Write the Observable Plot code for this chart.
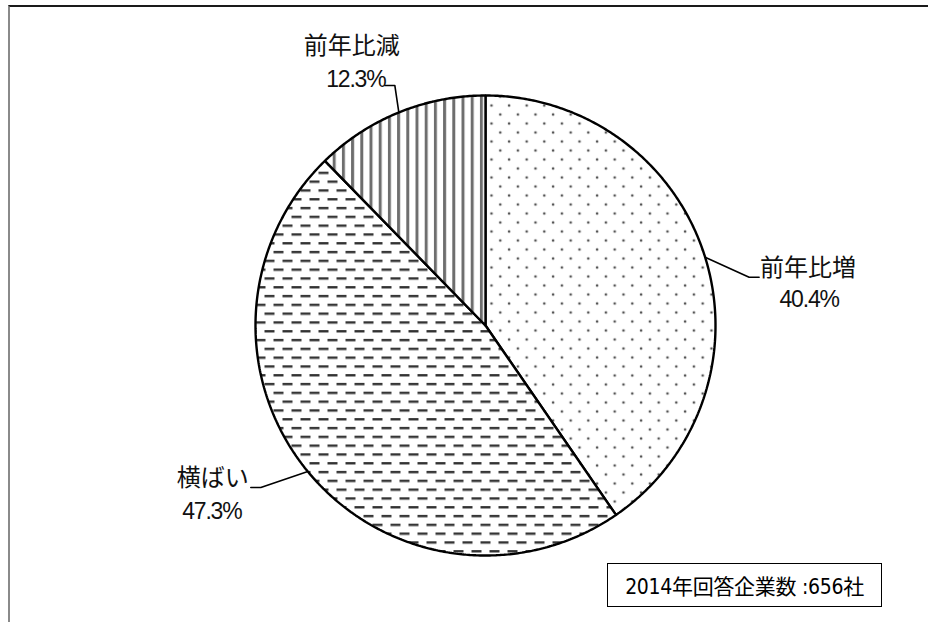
<!DOCTYPE html>
<html><head><meta charset="utf-8">
<script src="https://cdn.jsdelivr.net/npm/d3@7"></script>
<script src="https://cdn.jsdelivr.net/npm/@observablehq/plot@0.6"></script>
<style>
body{margin:0;background:#fff;}
#wrap{position:relative;width:928px;height:622px;overflow:hidden;background:#fff;}
#frame{position:absolute;left:8px;top:5px;width:940px;height:640px;border-top:2px solid #1a1a1a;border-left:2px solid #8a8a8a;}
#chart{position:absolute;left:0;top:0;}
#note{position:absolute;left:607px;top:563px;width:273px;height:42px;border:1.5px solid #000;display:flex;align-items:center;justify-content:center;font-family:"Liberation Sans Narrow","DejaVu Sans Condensed","Noto Sans CJK JP",sans-serif;font-size:21px;letter-spacing:-0.3px;color:#000;white-space:pre;}
</style></head>
<body>
<div id="wrap"><div id="frame"></div><div id="chart"></div><div id="note"></div></div>
<script>
// ---- data ----
const categories = ["前年比増", "横ばい", "前年比減"];
const shares = [40.4, 47.3, 12.3];
const valueLabels = ["40.4%", "47.3%", "12.3%"];
const noteText = "2014年回答企業数 :656社";

// ---- styles / layout (kept apart from data) ----
const sliceFills = ["url(#dots)", "url(#dashes)", "url(#stripes)"];
const R = 230; // pie radius in px
// leader elbow / end offsets (px) from the edge point, and text offsets (px) from end point
const leaderLayout = [
  {elbow: [44, 20], end: [54, 20], name: [49, -9], value: [50, 22]},
  {elbow: [-47, 16], end: [-57, 16], name: [-38, -9], value: [-39, 24]},
  {elbow: [-4, -27], end: [-14, -27], name: [-33, -39], value: [-29, -6]}
];

const arcs = d3.pie().sort(null).value(d => d)(shares);
const pt = (a, r = 1) => ({x: r * Math.sin(a), y: r * Math.cos(a)});

// slice polygons in unit coordinates
const polys = [];
arcs.forEach((a, i) => {
  const cat = categories[i];
  polys.push({cat, fill: sliceFills[i], x: 0, y: 0});
  const n = Math.max(2, Math.ceil((a.endAngle - a.startAngle) / (Math.PI / 360)));
  for (let k = 0; k <= n; k++) {
    const ang = a.startAngle + (a.endAngle - a.startAngle) * k / n;
    polys.push({cat, fill: sliceFills[i], ...pt(ang)});
  }
  polys.push({cat, fill: sliceFills[i], x: 0, y: 0});
});

// leader lines and label anchors
const leaders = [], names = [], values = [];
arcs.forEach((a, i) => {
  const mid = (a.startAngle + a.endAngle) / 2;
  const e = pt(mid);
  const L = leaderLayout[i];
  const off = (p, o) => ({x: p.x + o[0] / R, y: p.y - o[1] / R});
  const elbow = off(e, L.elbow), end = off(e, L.end);
  leaders.push({cat: categories[i], ...e}, {cat: categories[i], ...elbow}, {cat: categories[i], ...end});
  names.push({text: categories[i], ...off(end, L.name)});
  values.push({text: valueLabels[i], ...off(end, L.value)});
});

const cjkFont = '"Noto Sans CJK JP",sans-serif';
const numFont = '"Liberation Sans",Arial,sans-serif';

const plot = Plot.plot({
  width: 928, height: 622,
  margin: 0,
  x: {domain: [-1, 1], range: [485 - R, 485 + R], axis: null},
  y: {domain: [-1, 1], range: [325 + R, 325 - R], axis: null},
  color: {type: "identity"},
  style: {background: "transparent", overflow: "visible"},
  marks: [
    Plot.line(polys, {x: "x", y: "y", z: "cat", fill: "fill", stroke: "#000", strokeWidth: 2.4, strokeLinejoin: "miter", curve: "linear"}),
    Plot.line(leaders, {x: "x", y: "y", z: "cat", stroke: "#000", strokeWidth: 1.6}),
    Plot.text(names, {x: "x", y: "y", text: "text", fontSize: 24, fontWeight: 400, fontFamily: cjkFont, fill: "#111"}),
    Plot.text(values, {x: "x", y: "y", text: "text", fontSize: 23, fontFamily: numFont, fill: "#111"})
  ]
});
d3.select(plot).selectAll("text").filter(function() { return /%$/.test(this.textContent); })
  .attr("letter-spacing", "-1.2");

// patterns
const defs = d3.select(plot).insert("defs", ":first-child");
const dots = defs.append("pattern").attr("id", "dots").attr("patternUnits", "userSpaceOnUse")
  .attr("width", 17.6).attr("height", 18).attr("x", 3).attr("y", 2);
dots.append("rect").attr("width", 17.6).attr("height", 18).attr("fill", "#fff");
dots.append("circle").attr("cx", 4).attr("cy", 4).attr("r", 1.35).attr("fill", "#555");
dots.append("circle").attr("cx", 12.8).attr("cy", 13).attr("r", 1.35).attr("fill", "#555");

const dashes = defs.append("pattern").attr("id", "dashes").attr("patternUnits", "userSpaceOnUse")
  .attr("width", 18).attr("height", 17.6).attr("x", 2).attr("y", 3);
dashes.append("rect").attr("width", 18).attr("height", 17.6).attr("fill", "#fff");
dashes.append("rect").attr("x", 1).attr("y", 1).attr("width", 10).attr("height", 2.4).attr("fill", "#333");
dashes.append("rect").attr("x", 10).attr("y", 9.8).attr("width", 10).attr("height", 2.4).attr("fill", "#333");
dashes.append("rect").attr("x", -8).attr("y", 9.8).attr("width", 10).attr("height", 2.4).attr("fill", "#333");

const stripes = defs.append("pattern").attr("id", "stripes").attr("patternUnits", "userSpaceOnUse")
  .attr("width", 9.2).attr("height", 10).attr("x", 1);
stripes.append("rect").attr("width", 9.2).attr("height", 10).attr("fill", "#fff");
stripes.append("rect").attr("x", 0).attr("width", 3).attr("height", 10).attr("fill", "#6e6e6e");

document.getElementById("chart").appendChild(plot);
document.getElementById("note").textContent = noteText;
</script>
</body></html>
